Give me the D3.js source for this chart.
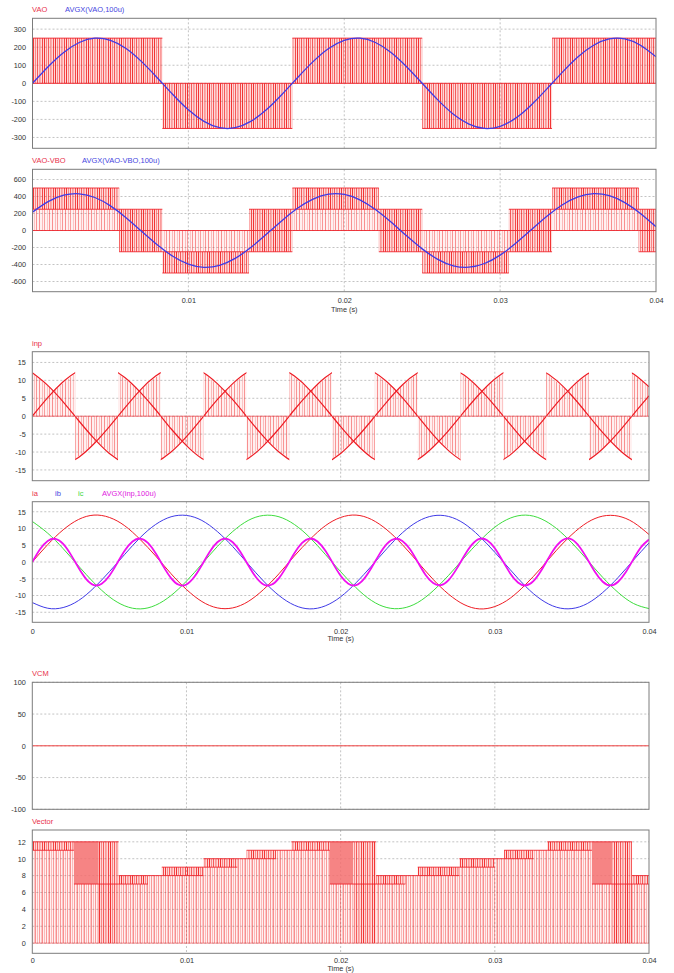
<!DOCTYPE html>
<html>
<head>
<meta charset="utf-8">
<script src="https://cdn.jsdelivr.net/npm/d3@7"></script>
<style>
  body { margin: 0; background: #fff; }
  svg text { font-family: "Liberation Sans", Arial, sans-serif; }
</style>
</head>
<body>
<script>
// PSIM style scope plots - 3-level NPC inverter waveforms

// ---- data ----
const timeTicks = [0, 0.01, 0.02, 0.03, 0.04];
const vaoTicks = [-300, -200, -100, 0, 100, 200, 300];
const vabTicks = [-600, -400, -200, 0, 200, 400, 600];
const currentTicks = [-15, -10, -5, 0, 5, 10, 15];
const vcmTicks = [-100, -50, 0, 50, 100];
const vectorTicks = [0, 2, 4, 6, 8, 10, 12];

// sample instants (ms) of the smooth traces
const sampleMs = [0,1,2,3,4,5,6,7,8,9,10,11,12,13,14,15,16,17,18,19,20,21,22,23,24,25,26,27,28,29,30,31,32,33,34,35,36,37,38,39,40];
const avgVao = [0,92,171,226,250,238,193,120,31,-62,-147,-211,-246,-246,-211,-147,-62,31,120,193,238,250,226,171,92,0,-92,-171,-226,-250,-238,-193,-120,-31,62,147,211,246,246,211,147];
const avgVab = [216,339,415,432,388,290,151,-9,-168,-303,-395,-433,-409,-328,-201,-45,116,262,370,427,424,361,247,99,-63,-216,-339,-415,-432,-388,-290,-151,9,168,303,395,433,409,328,201,45];
const ia = [0,5.2,9.6,12.7,14.0,13.3,10.8,6.7,1.8,-3.5,-8.2,-11.8,-13.7,-13.7,-11.8,-8.2,-3.5,1.8,6.7,10.8,13.3,14.0,12.7,9.6,5.2,0,-5.2,-9.6,-12.7,-14.0,-13.3,-10.8,-6.7,-1.8,3.5,8.2,11.8,13.7,13.7,11.8,8.2];
const ib = [-12.1,-13.8,-13.6,-11.5,-7.7,-2.9,2.3,7.3,11.2,13.5,13.9,12.4,9.1,4.6,-0.6,-5.7,-10.0,-12.9,-14.0,-13.1,-10.4,-6.2,-1.2,4.0,8.7,12.1,13.8,13.6,11.5,7.7,2.9,-2.3,-7.3,-11.2,-13.5,-13.9,-12.4,-9.1,-4.6,0.6,5.7];
const ic = [12.1,8.6,4.0,-1.2,-6.2,-10.4,-13.1,-14.0,-12.9,-10.0,-5.7,-0.6,4.6,9.1,12.4,13.9,13.5,11.2,7.3,2.3,-2.9,-7.7,-11.5,-13.6,-13.8,-12.1,-8.6,-4.0,1.2,6.2,10.4,13.1,14.0,12.9,10.0,5.7,0.6,-4.6,-9.1,-12.4,-13.9];

// AVGX(inp,100u), sampled every 0.5 ms
const halfMs = [0,0.5,1,1.5,2,2.5,3,3.5,4,4.5,5,5.5,6,6.5,7,7.5,8,8.5,9,9.5,10,10.5,11,11.5,12,12.5,13,13.5,14,14.5,15,15.5,16,16.5,17,17.5,18,18.5,19,19.5,20,20.5,21,21.5,22,22.5,23,23.5,24,24.5,25,25.5,26,26.5,27,27.5,28,28.5,29,29.5,30,30.5,31,31.5,32,32.5,33,33.5,34,34.5,35,35.5,36,36.5,37,37.5,38,38.5,39,39.5,40];
const avgInp = [0,3.8,6.3,6.9,5.4,2.2,-1.7,-5.1,-6.9,-6.5,
  -4.1,-0.4,3.4,6.1,7.0,5.7,2.6,-1.3,-4.8,-6.8,
  -6.7,-4.5,-0.9,3.0,5.9,7.0,5.9,3.0,-0.9,-4.5,
  -6.7,-6.8,-4.8,-1.3,2.6,5.7,7.0,6.1,3.4,-0.4,
  -4.1,-6.5,-6.9,-5.1,-1.7,2.2,5.4,6.9,6.3,3.8,
  0,-3.8,-6.3,-6.9,-5.4,-2.2,1.7,5.1,6.9,6.5,
  4.1,0.4,-3.4,-6.1,-7.0,-5.7,-2.6,1.3,4.8,6.8,
  6.7,4.5,0.9,-3.0,-5.9,-7.0,-5.9,-3.0,0.9,4.5,
  6.7];

// VAO switching blocks: [start, end, low level, high level]
const vaoBlocks = [
  [0, 0.00833, 0, 250], [0.00833, 0.01667, -250, 0], [0.01667, 0.025, 0, 250],
  [0.025, 0.03333, -250, 0], [0.03333, 0.04, 0, 250]
];
// VAO-VBO switching blocks: [start, end, low, middle, high]
const vabBlocks = [
  [0, 0.00556, 0, 250, 500], [0.00556, 0.00833, -250, 0, 250], [0.00833, 0.01389, -500, -250, 0],
  [0.01389, 0.01667, -250, 0, 250], [0.01667, 0.02222, 0, 250, 500], [0.02222, 0.025, -250, 0, 250],
  [0.025, 0.03056, -500, -250, 0], [0.03056, 0.03333, -250, 0, 250], [0.03333, 0.03889, 0, 250, 500],
  [0.03889, 0.04, -250, 0, 250]
];

// inp: 60 degree sectors, sign of each sector, pulse top at sector edges / middle
const inpBounds = [0,0.00278,0.00556,0.00833,0.01111,0.01389,0.01667,0.01944,0.02222,0.025,0.02778,0.03056,0.03333,0.03611,0.03889,0.04167];
const inpMid = [0.00139,0.00417,0.00694,0.00972,0.0125,0.01528,0.01806,0.02083,0.02361,0.02639,0.02917,0.03194,0.03472,0.0375,0.04028];
const inpSign = [1,-1,1,-1,1,-1,1,-1,1,-1,1,-1,1,-1,1];
const inpTop = [12, 7, 12];

// VCM
const vcmT = [0, 0.04];
const vcmV = [0, 0];

// Vector index blocks: [start, end, low, high, mode]
const vectorBlocks = [
  [0, 0.0027, 11, 12, "band"], [0.0027, 0.0043, 7, 12, "solid"], [0.0043, 0.0056, 7, 12, "dark"],
  [0.0056, 0.0075, 7, 8, "band"], [0.0075, 0.0084, 0, 8, "plain"], [0.0084, 0.0111, 8, 9, "band"],
  [0.0111, 0.0133, 9, 10, "band"], [0.0133, 0.0139, 0, 10, "plain"], [0.0139, 0.0158, 10, 11, "band"],
  [0.0158, 0.0168, 0, 11, "plain"],
  [0.0168, 0.0193, 11, 12, "band"], [0.0193, 0.0208, 7, 12, "solid"], [0.0208, 0.0223, 7, 12, "dark"],
  [0.0223, 0.0242, 7, 8, "band"], [0.0242, 0.0250, 0, 8, "plain"], [0.0250, 0.0277, 8, 9, "band"],
  [0.0277, 0.0300, 9, 10, "band"], [0.0300, 0.0306, 0, 10, "plain"], [0.0306, 0.0325, 10, 11, "band"],
  [0.0325, 0.0334, 0, 11, "plain"],
  [0.0334, 0.0363, 11, 12, "band"], [0.0363, 0.0376, 7, 12, "solid"], [0.0376, 0.0389, 7, 12, "dark"],
  [0.0389, 0.0400, 7, 8, "band"]
];

// ---- drawing ----
const RED = "#ee1c24";
const BLUE = "#3f3ae6";
const GREEN = "#3ddc3d";
const MAGENTA = "#f010f0";
const GRID = "#b4b4b4";

const svg = d3.select("body").append("svg")
    .attr("width", 674)
    .attr("height", 973)
    .style("display", "block");

const defs = svg.append("defs");

// vertical stripe textures standing for the dense switching edges
function addPattern(id, w, lines, bg) {
    const p = defs.append("pattern")
        .attr("id", id)
        .attr("patternUnits", "userSpaceOnUse")
        .attr("width", w)
        .attr("height", 973);
    if (bg) p.append("rect").attr("width", w).attr("height", 973).attr("fill", "#ff3a3a").attr("fill-opacity", bg);
    p.selectAll("rect.l").data(lines).join("rect")
        .attr("class", "l")
        .attr("x", d => d[0])
        .attr("width", 1)
        .attr("height", 973)
        .attr("fill", "#f01818")
        .attr("fill-opacity", d => d[1]);
}
addPattern("pwmDense", 11, [[0, .85], [2, .42], [4, .65], [6, .32], [7, .22], [9, .75]], 0.2);
addPattern("pwmLight", 13, [[0, .45], [3, .25], [5, .38], [8, .2], [10, .42]], 0.08);
addPattern("vecLight", 7, [[0, .45], [2, .25], [4, .4], [6, .2]], 0.08);

function makePanel(c) {
    const x = d3.scaleLinear().domain([0, 0.04]).range([c.left, c.right]);
    const y = d3.scaleLinear().domain(c.domain).range([c.bottom, c.top]);
    const g = svg.append("g");
    const cid = "clip-" + c.id;

    defs.append("clipPath").attr("id", cid).append("rect")
        .attr("x", c.left).attr("y", c.top)
        .attr("width", c.right - c.left).attr("height", c.bottom - c.top);

    // dotted grid
    g.append("g").selectAll("line").data(c.ticks).join("line")
        .attr("x1", c.left).attr("x2", c.right)
        .attr("y1", d => y(d)).attr("y2", d => y(d))
        .attr("stroke", GRID).attr("stroke-width", 0.8).attr("stroke-dasharray", "2,2");
    g.append("g").selectAll("line").data(timeTicks.filter(t => t > 0 && t < 0.04)).join("line")
        .attr("x1", d => x(d)).attr("x2", d => x(d))
        .attr("y1", c.top).attr("y2", c.bottom)
        .attr("stroke", GRID).attr("stroke-width", 0.8).attr("stroke-dasharray", "2,2");

    // y tick labels
    g.append("g")
        .attr("transform", `translate(${c.left},0)`)
        .call(d3.axisLeft(y).tickValues(c.ticks).tickSize(0).tickPadding(6.5).tickFormat(d => String(d)))
        .call(a => a.select(".domain").remove())
        .attr("font-size", 7.3)
        .attr("font-family", "Liberation Sans, Arial, sans-serif")
        .attr("color", "#333");

    // legend texts
    c.legend.forEach(l => {
        g.append("text")
            .attr("x", l.x).attr("y", c.top - c.legendGap)
            .attr("font-size", 7.5).attr("fill", l.color)
            .text(l.text);
    });

    const plot = g.append("g").attr("clip-path", `url(#${cid})`);
    return { x, y, g, plot, c };
}

function finishPanel(p, xLabels, tickPad, labelGap) {
    const c = p.c;
    p.g.append("rect")
        .attr("x", c.left).attr("y", c.top)
        .attr("width", c.right - c.left).attr("height", c.bottom - c.top)
        .attr("fill", "none").attr("stroke", "#7c7c7c").attr("stroke-width", 1);
    if (xLabels) {
        p.g.append("g")
            .attr("transform", `translate(0,${c.bottom})`)
            .call(d3.axisBottom(p.x).tickValues(xLabels).tickSize(0).tickPadding(tickPad).tickFormat(d => String(d)))
            .call(a => a.select(".domain").remove())
            .attr("font-size", 7.3)
            .attr("font-family", "Liberation Sans, Arial, sans-serif")
            .attr("color", "#333");
        p.g.append("text")
            .attr("x", p.x(0.02)).attr("y", c.bottom + labelGap)
            .attr("text-anchor", "middle")
            .attr("font-size", 7.3).attr("fill", "#333")
            .text("Time (s)");
    }
}

function band(p, t0, t1, lo, hi, fill) {
    p.plot.append("rect")
        .attr("x", p.x(t0)).attr("width", p.x(t1) - p.x(t0))
        .attr("y", p.y(Math.max(lo, hi))).attr("height", Math.abs(p.y(lo) - p.y(hi)))
        .attr("fill", fill);
}
function hline(p, t0, t1, v, op) {
    p.plot.append("line")
        .attr("x1", p.x(t0)).attr("x2", p.x(t1))
        .attr("y1", p.y(v)).attr("y2", p.y(v))
        .attr("stroke", RED).attr("stroke-opacity", op).attr("stroke-width", 1);
}
function trace(p, times, values, color, width, curve) {
    p.plot.append("path")
        .datum(values)
        .attr("fill", "none")
        .attr("stroke", color)
        .attr("stroke-width", width)
        .attr("d", d3.line().x((d, i) => p.x(times[i] / 1000)).y(d => p.y(d)).curve(curve || d3.curveNatural));
}

// ---- panel 1: VAO ----
const p1 = makePanel({
    id: "vao", left: 32.5, right: 656, top: 18.3, bottom: 148.3, domain: [-360, 360], ticks: vaoTicks,
    legendGap: 6, legend: [{ text: "VAO", x: 32, color: "#e8304a" }, { text: "AVGX(VAO,100u)", x: 65, color: "#4646e0" }]
});
vaoBlocks.forEach(b => {
    band(p1, b[0], b[1], b[2], b[3], "url(#pwmDense)");
    hline(p1, b[0], b[1], b[2], 0.9);
    hline(p1, b[0], b[1], b[3], 0.9);
});
trace(p1, sampleMs, avgVao, BLUE, 1.3);
finishPanel(p1, null);

// ---- panel 2: VAO-VBO ----
const p2 = makePanel({
    id: "vab", left: 32.5, right: 656, top: 169.3, bottom: 291.7, domain: [-720, 720], ticks: vabTicks,
    legendGap: 6, legend: [{ text: "VAO-VBO", x: 32, color: "#e8304a" }, { text: "AVGX(VAO-VBO,100u)", x: 82, color: "#4646e0" }]
});
vabBlocks.forEach(b => {
    const [t0, t1, lo, mid, hi] = b;
    const upper = lo >= 0 ? "url(#pwmDense)" : (hi <= 0 ? "url(#pwmLight)" : "url(#pwmDense)");
    const lower = hi <= 0 ? "url(#pwmDense)" : (lo >= 0 ? "url(#pwmLight)" : "url(#pwmDense)");
    band(p2, t0, t1, mid, hi, upper);
    band(p2, t0, t1, lo, mid, lower);
    hline(p2, t0, t1, lo, 0.85);
    hline(p2, t0, t1, mid, 0.85);
    hline(p2, t0, t1, hi, 0.85);
});
trace(p2, sampleMs, avgVab, BLUE, 1.3);
finishPanel(p2, timeTicks.slice(1), 6.5, 20);

// ---- panel 3: inp ----
const p3 = makePanel({
    id: "inp", left: 32.3, right: 649, top: 351.7, bottom: 480.7, domain: [-18, 18], ticks: currentTicks,
    legendGap: 6, legend: [{ text: "inp", x: 32, color: "#e8304a" }]
});
const inpArea = d3.area().x(d => p3.x(d[0])).y0(p3.y(0)).y1(d => p3.y(d[1]));
inpSign.forEach((s, i) => {
    const pts = [[inpBounds[i], s * inpTop[0]], [inpMid[i], s * inpTop[1]], [inpBounds[i + 1], s * inpTop[2]]];
    p3.plot.append("path").attr("d", inpArea(pts)).attr("fill", "url(#pwmLight)");
});
hline(p3, 0, 0.04, 0, 0.6);
// phase currents seen at the neutral point: each current only inside sectors of its own sign
const secClip = defs.append("clipPath").attr("id", "inpSectors");
inpSign.forEach((s, i) => {
    secClip.append("rect")
        .attr("x", p3.x(inpBounds[i])).attr("width", p3.x(inpBounds[i + 1]) - p3.x(inpBounds[i]))
        .attr("y", s > 0 ? p3.y(18) : p3.y(0)).attr("height", p3.y(0) - p3.y(18));
});
const inpLines = p3.plot.append("g").attr("clip-path", "url(#inpSectors)");
[ia, ib, ic].forEach(cur => {
    inpLines.append("path")
        .datum(cur)
        .attr("fill", "none").attr("stroke", RED).attr("stroke-width", 1.2)
        .attr("d", d3.line().x((d, i) => p3.x(sampleMs[i] / 1000)).y(d => p3.y(d)).curve(d3.curveNatural));
});
finishPanel(p3, null);

// ---- panel 4: ia ib ic and AVGX(inp) ----
const p4 = makePanel({
    id: "iabc", left: 32.3, right: 649, top: 501.7, bottom: 622.3, domain: [-18, 18], ticks: currentTicks,
    legendGap: 6, legend: [
        { text: "ia", x: 32, color: "#e8304a" }, { text: "ib", x: 55, color: "#4646e0" },
        { text: "ic", x: 78, color: "#40d840" }, { text: "AVGX(inp,100u)", x: 102, color: "#e020e0" }]
});
trace(p4, sampleMs, ia, RED, 1);
trace(p4, sampleMs, ib, BLUE, 1);
trace(p4, sampleMs, ic, GREEN, 1);
trace(p4, halfMs, avgInp, MAGENTA, 1.8);
finishPanel(p4, timeTicks, 6.5, 19);

// ---- panel 5: VCM ----
const p5 = makePanel({
    id: "vcm", left: 32.3, right: 649, top: 682.3, bottom: 809.3, domain: [-100, 100], ticks: vcmTicks,
    legendGap: 6, legend: [{ text: "VCM", x: 32, color: "#e8304a" }]
});
p5.plot.append("path")
    .datum(vcmV)
    .attr("fill", "none").attr("stroke", "#f04040").attr("stroke-width", 1)
    .attr("d", d3.line().x((d, i) => p5.x(vcmT[i])).y(d => p5.y(d)));
finishPanel(p5, null);

// ---- panel 6: Vector ----
const p6 = makePanel({
    id: "vec", left: 32.3, right: 649, top: 830, bottom: 953.3, domain: [-1.2, 13.4], ticks: vectorTicks,
    legendGap: 6, legend: [{ text: "Vector", x: 32, color: "#e8304a" }]
});
vectorBlocks.forEach(b => {
    const [t0, t1, lo, hi, mode] = b;
    if (mode === "band") {
        band(p6, t0, t1, 0, lo, "url(#vecLight)");
        band(p6, t0, t1, lo, hi, "url(#pwmDense)");
    } else if (mode === "solid") {
        band(p6, t0, t1, 0, lo, "url(#vecLight)");
        p6.plot.append("rect")
            .attr("x", p6.x(t0)).attr("width", p6.x(t1) - p6.x(t0))
            .attr("y", p6.y(hi)).attr("height", p6.y(lo) - p6.y(hi))
            .attr("fill", "#f56f6f").attr("fill-opacity", 0.85);
    } else if (mode === "dark") {
        band(p6, t0, t1, 0, hi, "url(#pwmDense)");
    } else {
        band(p6, t0, t1, 0, hi, "url(#vecLight)");
    }
    if (lo > 0) hline(p6, t0, t1, lo, 0.85);
    hline(p6, t0, t1, hi, 0.85);
});
hline(p6, 0, 0.04, 0, 0.45);
finishPanel(p6, timeTicks, 4.8, 17.8);
</script>
</body>
</html>
